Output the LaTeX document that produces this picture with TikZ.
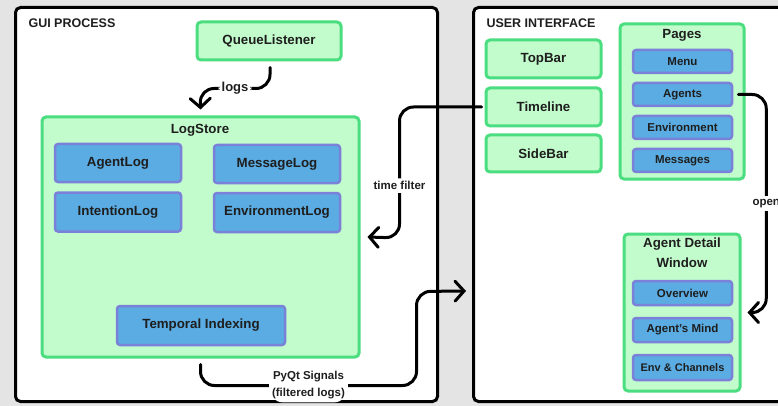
\documentclass[tikz,border=0pt]{standalone}
\usepackage{fontspec}
\setmainfont{Liberation Sans}
\usetikzlibrary{arrows.meta, positioning}
\definecolor{bggray}{HTML}{E4E4E4}
\definecolor{lightgreen}{HTML}{C3FCCC}
\definecolor{boxgreen}{HTML}{4ADE80}
\definecolor{boxblue}{HTML}{5AACE2}
\definecolor{boxpurple}{HTML}{7B80D8}
\definecolor{ink}{HTML}{1E1E1E}
\tikzset{
    panel/.style={
        rectangle, draw=black, line width=3pt, rounded corners=5pt,
        fill=white
    },
    module/.style={
        rectangle, draw=boxgreen, line width=3pt, rounded corners=4pt,
        fill=lightgreen, text=ink, font=\bfseries\fontsize{13.3}{16}\selectfont
    },
    logbox/.style={
        rectangle, draw=boxpurple, line width=2.5pt, rounded corners=3pt,
        fill=boxblue, text=ink, font=\bfseries\fontsize{13.3}{16}\selectfont
    },
    pagebox/.style={logbox, font=\bfseries\fontsize{11.5}{14}\selectfont},
    heading/.style={text=ink, font=\bfseries\fontsize{12.5}{15}\selectfont},
    flow/.style={draw=black, line width=3pt, line cap=round, rounded corners=14pt,
        -{Straight Barb[length=9pt, width=20pt, line cap=round]}},
    flowlabel/.style={fill=white, inner sep=3pt, align=center, text=ink,
        font=\bfseries\fontsize{11.5}{17}\selectfont}
}

\begin{document}
\begin{tikzpicture}[x=1pt, y=-1pt]

\useasboundingbox (0,0) rectangle (778,406);
\clip (0,0) rectangle (778,406);
\fill[bggray] (0,0) rectangle (778,406);

% Panels
\node[panel, minimum width=422pt, minimum height=394pt] (gui) at (226.5,204.5) {};
\node[heading, anchor=west] (guititle) at (25,23) {GUI PROCESS};

\node[panel, minimum width=360pt, minimum height=394pt] (ui) at (653.5,204.5) {};
\node[heading, anchor=west] (uititle) at (483,23) {USER INTERFACE};

% Queue listener
\node[module, minimum width=144pt, minimum height=38pt] (ql) at (269,41) {QueueListener};

% Log store with its logs
\node[module, minimum width=317pt, minimum height=240pt] (store) at (200.5,237) {};
\node[text=ink, font=\bfseries\fontsize{13.3}{16}\selectfont] (storetitle) at (200,130) {LogStore};

\node[logbox, minimum width=126pt, minimum height=38pt] (agentlog) at (118,163) {AgentLog};
\node[logbox, minimum width=126pt, minimum height=38pt] (msglog) at (277,164) {MessageLog};
\node[logbox, minimum width=126pt, minimum height=39pt] (intlog) at (118,212) {IntentionLog};
\node[logbox, minimum width=126pt, minimum height=39pt] (envlog) at (277,212.5) {EnvironmentLog};
\node[logbox, minimum width=168pt, minimum height=39pt] (temporal) at (201,325.5) {Temporal Indexing};

% User interface widgets
\node[module, minimum width=115pt, minimum height=38pt] (topbar) at (543.5,59) {TopBar};
\node[module, minimum width=115pt, minimum height=38pt] (timeline) at (543.5,107) {Timeline};
\node[module, minimum width=115pt, minimum height=37pt] (sidebar) at (543.5,153.5) {SideBar};

% Pages
\node[module, minimum width=124pt, minimum height=155pt] (pages) at (682,101.5) {};
\node[text=ink, font=\bfseries\fontsize{13.3}{16}\selectfont] (pagestitle) at (682,35) {Pages};
\node[pagebox, minimum width=99pt, minimum height=23pt] (menu) at (682.5,61.5) {Menu};
\node[pagebox, minimum width=99pt, minimum height=23pt] (agents) at (682.5,94.5) {Agents};
\node[pagebox, minimum width=99pt, minimum height=23pt] (environment) at (682.5,127.5) {Environment};
\node[pagebox, minimum width=99pt, minimum height=23pt] (messages) at (682.5,160.5) {Messages};

% Agent detail window
\node[module, minimum width=116pt, minimum height=157pt] (adw) at (682,312.5) {};
\node[text=ink, align=center, font=\bfseries\fontsize{13.3}{20}\selectfont] (adwtitle) at (682,253) {Agent Detail\\Window};
\node[pagebox, minimum width=99pt, minimum height=24pt] (overview) at (682.5,293) {Overview};
\node[pagebox, minimum width=99pt, minimum height=24pt] (mind) at (682.5,330) {Agent's Mind};
\node[pagebox, minimum width=99pt, minimum height=25pt, font=\bfseries\fontsize{11}{14}\selectfont] (envch) at (682.5,367.5) {Env \& Channels};

\coordinate (sigin) at (466,291);

% Connections
\draw[flow] (ql.south) ++(1,6) -- ++(0,21) -- node[flowlabel, font=\bfseries\fontsize{13}{16}\selectfont] {logs} ++(-70,0) -- ([yshift=6pt]store.north);
\draw[flow] (timeline.west) ++(-3,0) -- ++(-82,0) -- node[flowlabel, pos=0.6] {time filter} ++(0,131) -- ([xshift=7pt]store.east);
\draw[flow] (store.south) ++(0,6) -- ++(0,21) -- node[flowlabel] {PyQt Signals\\(filtered logs)} ++(216,0) -- ++(0,-94) -- (sigin);
\draw[flow] (agents.east) ++(5,0) -- ++(28,0) -- node[flowlabel] {open} ++(0,218) -- ([xshift=6pt]adw.east);

\end{tikzpicture}
\end{document}
